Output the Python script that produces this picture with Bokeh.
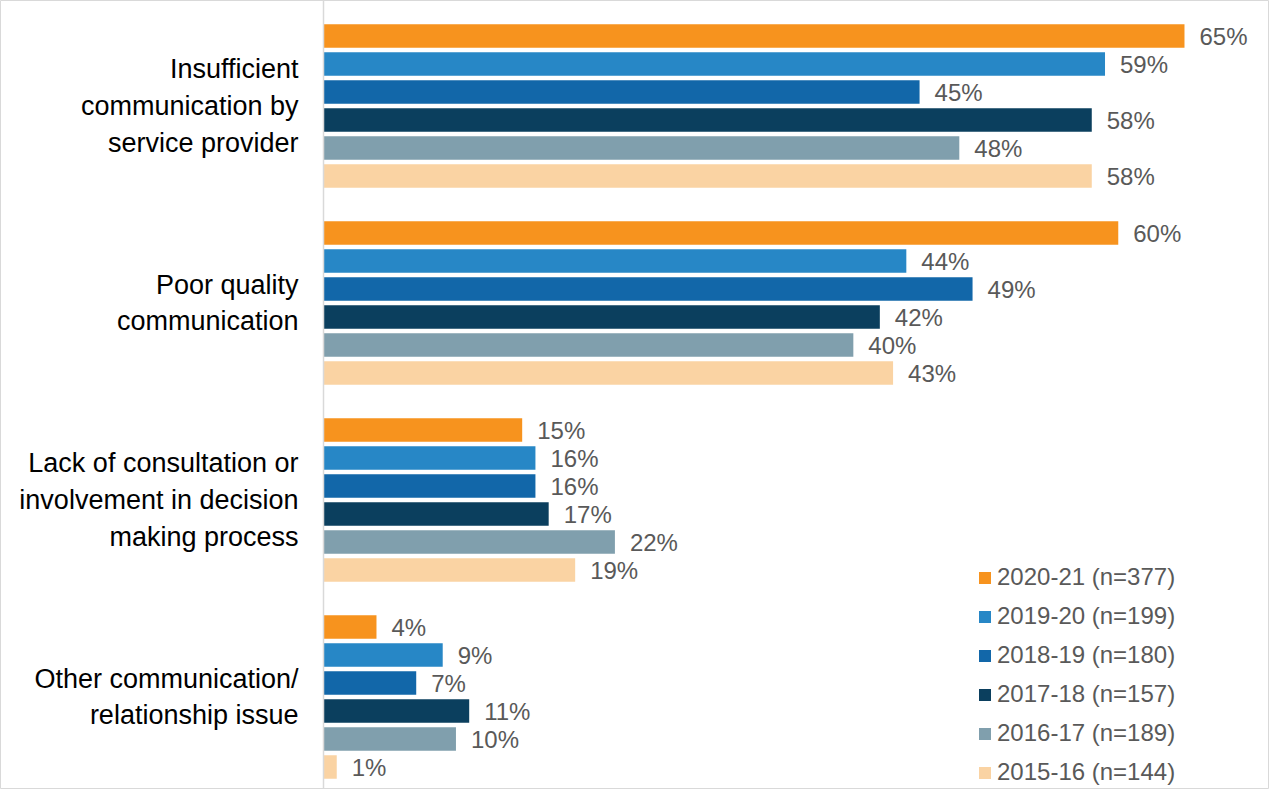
from bokeh.plotting import figure
from bokeh.models import Range1d, Span, Legend, LegendItem
from bokeh.core.properties import value
from bokeh.embed import file_html
from bokeh.resources import INLINE

# ---- data ----
categories = [
    "Insufficient\ncommunication by\nservice provider",
    "Poor quality\ncommunication",
    "Lack of consultation or\ninvolvement in decision\nmaking process",
    "Other communication/\nrelationship issue",
]
series_names = [
    "2020-21 (n=377)",
    "2019-20 (n=199)",
    "2018-19 (n=180)",
    "2017-18 (n=157)",
    "2016-17 (n=189)",
    "2015-16 (n=144)",
]
v_2020_21 = [65, 60, 15, 4]
v_2019_20 = [59, 44, 16, 9]
v_2018_19 = [45, 49, 16, 7]
v_2017_18 = [58, 42, 17, 11]
v_2016_17 = [48, 40, 22, 10]
v_2015_16 = [58, 43, 19, 1]
series_values = [v_2020_21, v_2019_20, v_2018_19, v_2017_18, v_2016_17, v_2015_16]
colors = ["#F7931E", "#2787C6", "#1267A9", "#0B3F5E", "#809FAD", "#FAD3A3"]

# ---- layout ----
W, H = 1269, 789
PX_PER_PCT = 13.246
ZERO_PX = 323          # from figure left edge to the 0% line
GROUP_PX = 197         # pixels per category band
TOP_PX = 7             # from figure top to first band top
BAR_PITCH = 28 / GROUP_PX
BAR_H = 23.5 / GROUP_PX
FONT = "Liberation Sans"

p = figure(
    width=W, height=H,
    x_range=Range1d(-ZERO_PX / PX_PER_PCT, (W - ZERO_PX) / PX_PER_PCT),
    y_range=Range1d((H - TOP_PX) / GROUP_PX, -TOP_PX / GROUP_PX),
    output_backend="svg", toolbar_location=None,
    x_axis_location=None, y_axis_location=None,
    min_border=0,
)
p.grid.visible = False
p.outline_line_color = "#D9D9D9"
p.background_fill_color = "white"
p.border_fill_color = "white"

# axis line at 0%
p.add_layout(Span(location=0, dimension="height", line_color="#D9D9D9", line_width=1.5))

items = []
n = len(series_values)
for j, (name, vals, col) in enumerate(zip(series_names, series_values, colors)):
    ys = [i + 0.5 + (j - (n - 1) / 2) * BAR_PITCH for i in range(len(categories))]
    r = p.hbar(y=ys, left=0, right=vals, height=BAR_H, fill_color=col, line_color=None)
    p.text(x=vals, y=ys, text=[f"{v}%" for v in vals], x_offset=15,
           text_align="left", text_baseline="middle",
           text_font=value(FONT), text_font_size="24px", text_color="#595959")
    items.append(LegendItem(label=name, renderers=[r]))

# category labels
p.text(x=[0] * len(categories), y=[i + 0.5 for i in range(len(categories))],
       text=categories, x_offset=-25, text_align="right", text_baseline="middle",
       text_font=value(FONT), text_font_size="27px", text_color="#000000",
       text_line_height=1.22)

legend = Legend(
    items=items, location=(977, 3), orientation="vertical",
    glyph_width=15, glyph_height=15, label_standoff=5, spacing=11,
    padding=0, margin=0, border_line_color=None, background_fill_alpha=0,
    label_text_font=FONT, label_text_font_size="24px", label_text_color="#595959",
)
p.add_layout(legend)

open("out.html", "w").write(file_html(p, INLINE))
